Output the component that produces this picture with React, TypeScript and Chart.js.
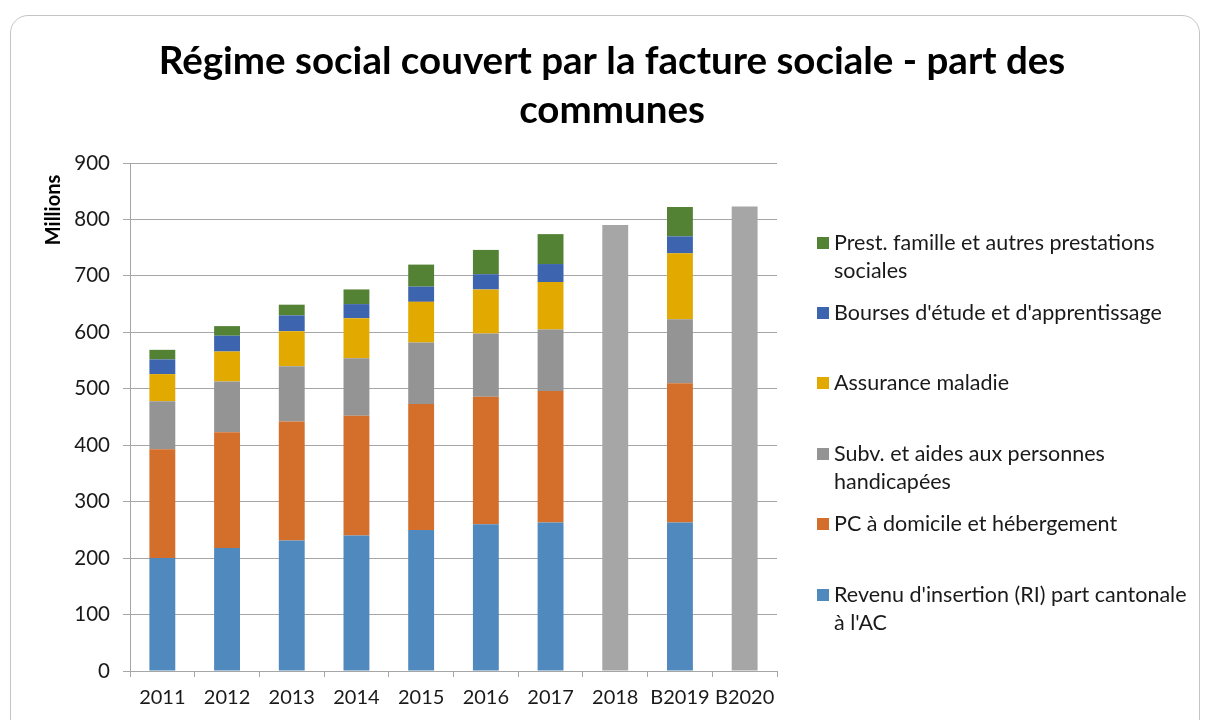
import React, { useEffect, useRef } from "react";
import { Chart, registerables } from "chart.js";

Chart.register(...registerables);

const categories = ["2011", "2012", "2013", "2014", "2015", "2016", "2017", "2018", "B2019", "B2020"];
const revenuInsertion = [200, 218, 231, 240, 250, 260, 263, null, 263, null];
const pcDomicile = [193, 205, 211, 212, 223, 226, 233, null, 247, null];
const subvHandicapees = [85, 90, 98, 102, 109, 112, 109, null, 113, null];
const assuranceMaladie = [48, 53, 62, 71, 72, 78, 84, null, 117, null];
const boursesEtude = [26, 28, 28, 25, 27, 27, 32, null, 30, null];
const prestFamille = [17, 17, 19, 26, 39, 43, 53, null, 52, null];
const totalOnly = [null, null, null, null, null, null, null, 790, null, 823];
const yTicks = [0, 100, 200, 300, 400, 500, 600, 700, 800, 900];

const titleLines = ["Régime social couvert par la facture sociale - part des", "communes"];
const yTitle = "Millions";

const seriesNames = [
  "Revenu d'insertion (RI) part cantonale à l'AC",
  "PC à domicile et hébergement",
  "Subv. et aides aux personnes handicapées",
  "Assurance maladie",
  "Bourses d'étude et d'apprentissage",
  "Prest. famille et autres prestations sociales",
];
const seriesColors = ["#4F89BD", "#D46F2B", "#949494", "#E2AA00", "#3D64AE", "#548235"];
const totalColor = "#A6A6A6";

// legend lines (top to bottom)
const legendEntries = [
  { idx: 5, lines: ["Prest. famille et autres prestations", "sociales"], y: 243 },
  { idx: 4, lines: ["Bourses d'étude et d'apprentissage"], y: 313 },
  { idx: 3, lines: ["Assurance maladie"], y: 383 },
  { idx: 2, lines: ["Subv. et aides aux personnes", "handicapées"], y: 454 },
  { idx: 1, lines: ["PC à domicile et hébergement"], y: 524 },
  { idx: 0, lines: ["Revenu d'insertion (RI) part cantonale", "à l'AC"], y: 595 },
];

const FONT = "Lato, 'Open Sans', sans-serif";

const decorPlugin = {
  id: "decor",
  afterDraw(chart: any) {
    const ctx = chart.ctx;
    ctx.save();
    // title
    ctx.fillStyle = "#000";
    ctx.textAlign = "center";
    ctx.textBaseline = "middle";
    ctx.font = `bold 38.5px ${FONT}`;
    ctx.fillText(titleLines[0], 612, 62);
    ctx.fillText(titleLines[1], 612, 111);
    // y title
    ctx.save();
    ctx.translate(54, 210);
    ctx.rotate(-Math.PI / 2);
    ctx.font = `bold 20px ${FONT}`;
    ctx.fillText(yTitle, 0, 0);
    ctx.restore();
    // legend
    ctx.textAlign = "left";
    ctx.font = `21.5px ${FONT}`;
    legendEntries.forEach((e) => {
      ctx.fillStyle = seriesColors[e.idx];
      ctx.fillRect(817, e.y - 6, 12, 12);
      ctx.fillStyle = "#1a1a1a";
      e.lines.forEach((ln, i) => {
        ctx.fillText(ln, 834, e.y + i * 28);
      });
    });
    ctx.restore();
  },
};

export default function App() {
  const ref = useRef<HTMLCanvasElement | null>(null);
  useEffect(() => {
    if (!ref.current) return;
    const datasets: any[] = [
      revenuInsertion,
      pcDomicile,
      subvHandicapees,
      assuranceMaladie,
      boursesEtude,
      prestFamille,
    ].map((d, i) => ({
      label: seriesNames[i],
      data: d,
      backgroundColor: seriesColors[i],
      borderWidth: 0,
      stack: "s",
    }));
    datasets.push({
      label: "Total",
      data: totalOnly,
      backgroundColor: totalColor,
      borderWidth: 0,
      stack: "s",
    });
    const chart = new Chart(ref.current, {
      type: "bar",
      data: { labels: categories, datasets },
      options: {
        animation: false,
        responsive: false,
        maintainAspectRatio: false,
        layout: { padding: { left: 0, top: 163, right: 429, bottom: 0 } },
        datasets: { bar: { barPercentage: 0.4, categoryPercentage: 1 } },
        plugins: {
          legend: { display: false },
          title: { display: false },
          tooltip: { enabled: false },
        },
        scales: {
          x: {
            stacked: true,
            grid: {
              drawOnChartArea: false,
              drawTicks: true,
              tickLength: 6,
              offset: true,
              color: "#A6A6A6",
            },
            border: { display: true, color: "#A6A6A6" },
            ticks: {
              color: "#1a1a1a",
              font: { family: FONT, size: 20 },
              padding: 9,
              maxRotation: 0,
              autoSkip: false,
            },
            afterFit: (s: any) => {
              s.height = 49;
            },
          },
          y: {
            stacked: true,
            min: 0,
            max: 900,
            afterBuildTicks: (s: any) => {
              s.ticks = yTicks.map((v) => ({ value: v }));
            },
            grid: { color: "#A6A6A6", tickLength: 7, drawTicks: true },
            border: { display: true, color: "#A6A6A6" },
            ticks: {
              color: "#1a1a1a",
              font: { family: FONT, size: 20.5 },
              padding: 13,
            },
            afterFit: (s: any) => {
              s.width = 130;
            },
          },
        },
      },
      plugins: [decorPlugin],
    });
    return () => chart.destroy();
  }, []);

  return (
    <div style={{ position: "fixed", left: 0, top: 0, width: 1206, height: 720, background: "#fff", overflow: "hidden" }}>
      <div
        style={{
          position: "absolute",
          left: 10,
          top: 15,
          width: 1190,
          height: 740,
          border: "1.5px solid #C4C4C4",
          borderRadius: 18,
          boxSizing: "border-box",
        }}
      />
      <canvas ref={ref} width={1206} height={720} style={{ position: "absolute", left: 0, top: 0 }} />
    </div>
  );
}
